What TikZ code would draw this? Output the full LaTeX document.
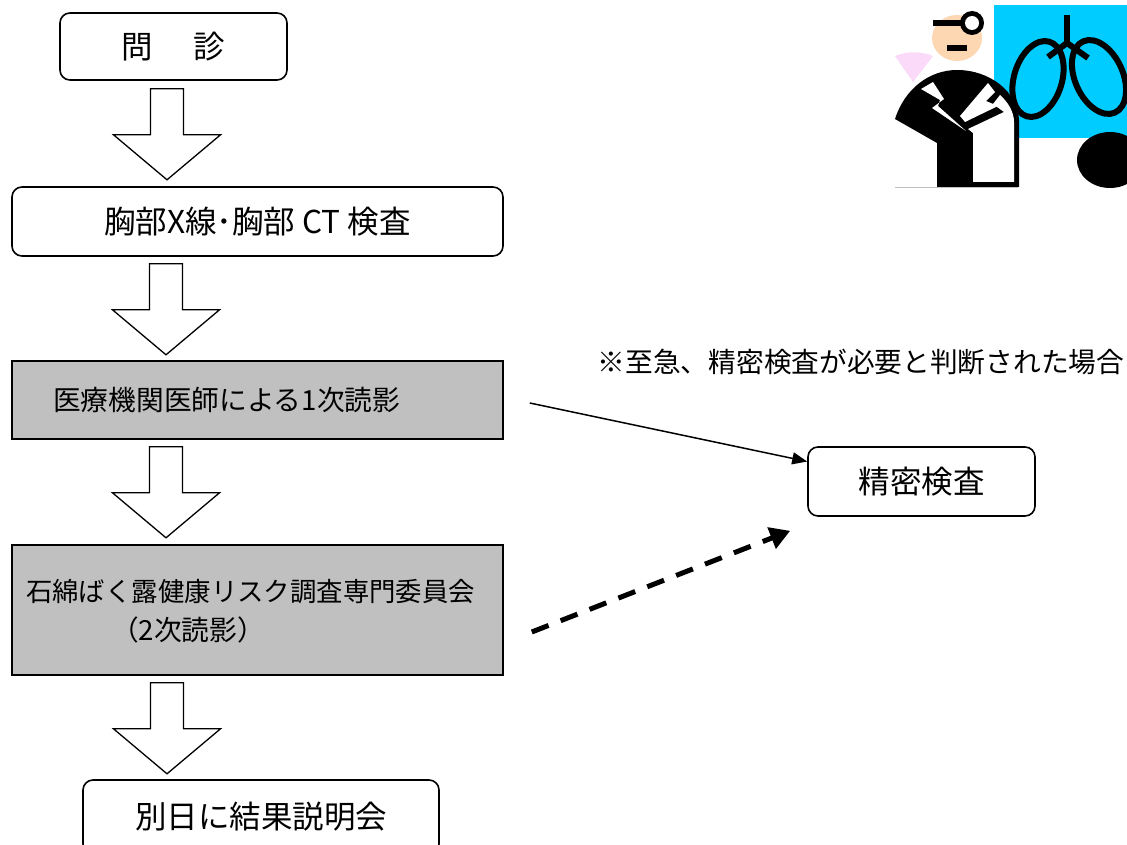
\documentclass[tikz,border=0pt]{standalone}
\usepackage{fontspec}
\setmainfont{Noto Sans CJK JP}
\usetikzlibrary{arrows.meta,calc}
\definecolor{boxgray}{HTML}{C0C0C0}
\definecolor{xraycyan}{HTML}{00CCFF}
\definecolor{skin}{HTML}{FDD7B2}
\definecolor{lamp}{HTML}{FADAF8}
\newcommand\bigtext{\fontsize{31.5}{38}\selectfont}
\newcommand\smalltext{\fontsize{27.7}{33}\selectfont}
\newcommand\longtext{\fontsize{26.4}{32}\selectfont}

\begin{document}
\begin{tikzpicture}[x=1pt,y=-1pt,
  stagebox/.style={draw, line width=1.6pt, rounded corners=10pt, fill=white, inner sep=0pt, font=\bigtext},
  readbox/.style={draw, line width=1.6pt, fill=boxgray, inner sep=0pt},
  label/.style={inner sep=0pt, font=\smalltext},
  flowarrow/.style={draw, line width=1.3pt, fill=white, line join=miter},
  pics/downarrow/.style={code={
    \path[flowarrow] (-16.5,0) -- (16.5,0) -- (16.5,46) -- (53.5,46) -- (0,91)
      -- (-53.5,46) -- (-16.5,46) -- cycle;}},
]
\useasboundingbox (0,0) rectangle (1127,845);
\clip (0,0) rectangle (1127,845);

% ---- flow boxes ----
\node[stagebox, minimum width=227pt, minimum height=67pt] (interview) at (173.5,46.5) {問\hspace{1.3em}診};
\node[stagebox, minimum width=491pt, minimum height=69pt] (imaging) at (257.5,221.5) {胸部X線･胸部 CT 検査};
\node[readbox, minimum width=491pt, minimum height=78pt] (first) at (257.5,400) {};
\node[label, anchor=west] (firstlabel) at (53,400) {医療機関医師による1次読影};
\node[readbox, minimum width=491pt, minimum height=130pt] (second) at (257.5,610) {};
\node[label, anchor=west, font=\longtext] (secondlabel) at (26,592) {石綿ばく露健康リスク調査専門委員会};
\node[label] (secondsub) at (188,630) {（2次読影）};
\node[stagebox, minimum width=356pt, minimum height=74pt] (result) at (261,817) {別日に結果説明会};
\node[stagebox, minimum width=227pt, minimum height=69pt] (exam) at (921.5,481.5) {精密検査};
\node[label] (note) at (861,362) {※至急、精密検査が必要と判断された場合};

% ---- block arrows between stages ----
\pic at ($(interview.south)+(-6.5,8)$) {downarrow};
\pic at ($(imaging.south)+(-91.5,7)$) {downarrow};
\pic at ($(first.south)+(-91.5,7)$) {downarrow};
\pic at ($(second.south)+(-90.5,7)$) {downarrow};

% ---- referrals to detailed examination ----
\coordinate (urgentfrom) at ($(first.east)+(26,3)$);
\draw[line width=1.5pt, -{Triangle[length=15pt,width=12pt]}] (urgentfrom) -- ([yshift=20pt]exam.west);
\coordinate (laterfrom) at ($(second.east)+(28,22)$);
\coordinate (laterto) at ($(exam.south west)+(-17,14)$);
\draw[line width=5pt, dash pattern=on 18pt off 13pt, -{Triangle[length=20pt,width=22pt]}] (laterfrom) -- (laterto);

% ---- doctor with chest X-ray ----
\fill[xraycyan] (994,5) rectangle (1127,138);
\begin{scope}[line width=6pt]
  \draw[rotate around={-17:(1038,79)}] (1038,79) ellipse [x radius=24, y radius=39];
  \draw[rotate around={24:(1099,77)}] (1099,77) ellipse [x radius=24, y radius=39];
  \draw (1067,15) -- (1067,43);
  \draw[line join=round] (1048,57) -- (1067,43) -- (1088,58);
\end{scope}
\fill (1110,160) ellipse [x radius=33, y radius=28];

\fill[lamp] (895,56) .. controls (907,51) and (921,51) .. (933,56) -- (913,82) -- cycle;
\fill[skin] (957,38) ellipse [x radius=25, y radius=23];
\fill (947,45) rectangle (967,51);
\fill (933,20) rectangle (962,26);
\fill (972,23) circle [radius=12];
\fill[white] (972,23) circle [radius=7];

\fill (895,119) .. controls (905,88) and (930,70) .. (957,70)
  .. controls (990,70) and (1018,92) .. (1019,120) -- (1019,187) -- (937,187) -- (937,143) -- cycle;
\fill[white] (921,89) -- (933,82) -- (944,99) -- (932,108) -- (966,131) -- (938,106) -- (940,100) -- cycle;
\fill[white] (988,83) -- (995,92) -- (986,101) -- (998,106) -- (965,122) -- (960,116) -- cycle;
\fill[white] (973,182) -- (973,133) -- (968,129) -- (1004,112) -- (993,104) -- (1000,95)
  .. controls (1008,102) and (1014,112) .. (1014,122) -- (1014,182) -- cycle;
\draw[gray!50, line width=1pt] (895,188) -- (1018,188);
\end{tikzpicture}
\end{document}
